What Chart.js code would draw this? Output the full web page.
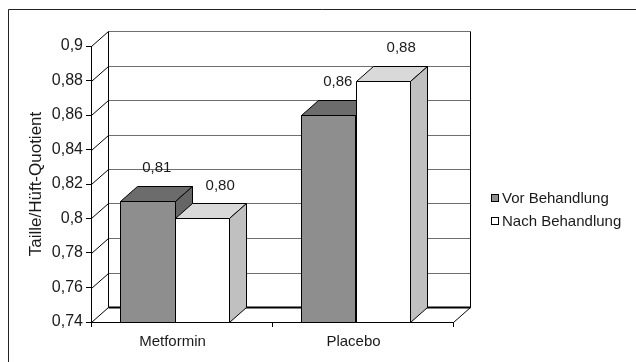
<!DOCTYPE html>
<html>
<head>
<meta charset="utf-8">
<script src="https://cdn.jsdelivr.net/npm/chart.js@4.4.1/dist/chart.umd.min.js"></script>
<style>
  html, body { margin: 0; padding: 0; background: #fff; }
  #wrap { width: 636px; height: 362px; }
</style>
</head>
<body>
<div id="wrap"><canvas id="c" width="636" height="362"></canvas></div>
<script>
// Waist/hip ratio before and after treatment
const categories = ['Metformin', 'Placebo'];
const seriesNames = ['Vor Behandlung', 'Nach Behandlung'];
const vorValues = [0.81, 0.86];
const nachValues = [0.80, 0.88];
const axisMin = 0.74;
const axisMax = 0.9;
const axisStep = 0.02;
const axisTitle = 'Taille/Hüft-Quotient';

// Styling
const FONT = '"Liberation Sans", Arial, Helvetica, sans-serif';
const TEXT = '#1a1a1a';
const frontColors = ['#8e8e8e', '#ffffff'];
const topColors = ['#6c6c6c', '#d9d9d9'];
const sideColors = ['#666666', '#c0c0c0'];
const labelShift = [1, 10];     // extra horizontal nudge of the value labels
const DEPTH_X = 17;             // oblique depth of the 3D box
const DEPTH_Y = -15;
const BAR_SHIFT = -7;           // perspective drift of the bar groups
const LABEL_RISE = 33;

const crisp = v => Math.round(v) + 0.5;
const fmtTick = v => String(Math.round(v * 100) / 100).replace('.', ',');
const fmtValue = v => v.toFixed(2).replace('.', ',');

function line(ctx, x1, y1, x2, y2) {
  ctx.beginPath();
  ctx.moveTo(x1, y1);
  ctx.lineTo(x2, y2);
  ctx.stroke();
}

function poly(ctx, pts, fill) {
  ctx.beginPath();
  ctx.moveTo(pts[0][0], pts[0][1]);
  for (let k = 1; k < pts.length; k++) ctx.lineTo(pts[k][0], pts[k][1]);
  ctx.closePath();
  ctx.fillStyle = fill;
  ctx.fill();
  ctx.stroke();
}

const box3d = {
  id: 'box3d',
  beforeDraw(chart) {
    const { ctx, width, height } = chart;
    ctx.save();
    ctx.fillStyle = '#fff';
    ctx.fillRect(0, 0, width, height);
    // outer frame (only its top and left edges fall inside the canvas)
    ctx.strokeStyle = '#222';
    ctx.lineWidth = 1;
    line(ctx, 8.5, 9.5, width, 9.5);
    line(ctx, 8.5, 9.5, 8.5, height);
    ctx.restore();
  },
  beforeDatasetsDraw(chart) {
    const { ctx, chartArea: a, scales: { y } } = chart;
    const dx = DEPTH_X, dy = DEPTH_Y;
    const L = crisp(a.left), R = crisp(a.right), B = crisp(a.bottom), T = crisp(a.top);
    ctx.save();
    ctx.lineWidth = 1;

    // back wall grid lines and side wall diagonals
    y.ticks.forEach(t => {
      const py = crisp(y.getPixelForValue(t.value));
      if (t.value > axisMin) {
        ctx.strokeStyle = '#6e6e6e';
        line(ctx, L + dx, py + dy, R + dx, py + dy);
      }
      ctx.strokeStyle = '#000';
      line(ctx, L, py, L + dx, py + dy);
    });
    ctx.strokeStyle = '#000';
    // back wall verticals
    line(ctx, L + dx, T + dy, L + dx, B + dy);
    line(ctx, R + dx, T + dy, R + dx, B + dy);
    // floor
    ctx.lineWidth = 2;
    line(ctx, L + dx, B + dy, R + dx, B + dy);
    ctx.lineWidth = 1;
    line(ctx, R, B, R + dx, B + dy);

    // 3D bars standing on the floor: category by category, series left to right
    const floorY = y.getPixelForValue(axisMin);
    const n = chart.data.labels.length;
    for (let i = 0; i < n; i++) {
      chart.data.datasets.forEach((ds, di) => {
        const bar = chart.getDatasetMeta(di).data[i];
        const p = bar.getProps(['x', 'y', 'width'], true);
        const l = crisp(p.x - p.width / 2 + BAR_SHIFT);
        const r = crisp(p.x + p.width / 2 + BAR_SHIFT);
        const top = crisp(p.y);
        const base = crisp(floorY);
        ctx.strokeStyle = '#000';
        ctx.lineWidth = 1;
        poly(ctx, [[l, top], [r, top], [r, base], [l, base]], frontColors[di]);
        poly(ctx, [[l, top], [l + dx, top + dy], [r + dx, top + dy], [r, top]], topColors[di]);
        poly(ctx, [[r, top], [r + dx, top + dy], [r + dx, base + dy], [r, base]], sideColors[di]);
      });
    }

    // value labels
    ctx.fillStyle = TEXT;
    ctx.font = '15px ' + FONT;
    ctx.textAlign = 'center';
    ctx.textBaseline = 'middle';
    chart.data.datasets.forEach((ds, di) => {
      chart.getDatasetMeta(di).data.forEach((bar, i) => {
        const p = bar.getProps(['x', 'y'], true);
        ctx.fillText(fmtValue(ds.data[i]), p.x + BAR_SHIFT + dx / 2 + labelShift[di], p.y - LABEL_RISE);
      });
    });
    ctx.restore();
    return false;
  },
  afterDraw(chart) {
    // legend
    const { ctx, chartArea: a } = chart;
    ctx.save();
    ctx.font = '15px ' + FONT;
    ctx.textAlign = 'left';
    ctx.textBaseline = 'middle';
    chart.data.datasets.forEach((ds, di) => {
      const cy = Math.round(a.top + 152 + di * 22.5);
      const bx = Math.round(a.right + 38);
      ctx.fillStyle = ds.backgroundColor;
      ctx.fillRect(bx, cy - 4, 8, 8);
      ctx.strokeStyle = '#000';
      ctx.lineWidth = 1;
      ctx.strokeRect(bx + 0.5, cy - 3.5, 7, 7);
      ctx.fillStyle = TEXT;
      ctx.fillText(ds.label, bx + 11, cy + 1);
    });
    ctx.restore();
  }
};

new Chart(document.getElementById('c'), {
  type: 'bar',
  data: {
    labels: categories,
    datasets: [
      { label: seriesNames[0], data: vorValues, backgroundColor: frontColors[0] },
      { label: seriesNames[1], data: nachValues, backgroundColor: frontColors[1] }
    ]
  },
  options: {
    responsive: false,
    animation: false,
    layout: { padding: { left: 8, right: 183, top: 46, bottom: 10 } },
    datasets: { bar: { categoryPercentage: 0.6, barPercentage: 1 } },
    plugins: { legend: { display: false }, tooltip: { enabled: false } },
    scales: {
      x: {
        offset: true,
        grid: { offset: true, drawOnChartArea: false, color: '#000', tickColor: '#000', tickLength: 5 },
        border: { color: '#000' },
        ticks: { font: { family: FONT, size: 15 }, color: TEXT, padding: 6, labelOffset: -9, maxRotation: 0 },
        afterFit(s) { s.height = 30; }
      },
      y: {
        min: axisMin,
        max: axisMax,
        grid: { drawOnChartArea: false, color: '#000', tickColor: '#000', tickLength: 5 },
        border: { color: '#000' },
        ticks: { stepSize: axisStep, font: { family: FONT, size: 16 }, color: TEXT, padding: 3, callback: v => fmtTick(v) },
        title: { display: true, text: axisTitle, font: { family: FONT, size: 17 }, color: TEXT, padding: { top: 18, bottom: 0 } },
        afterFit(s) { s.width = 83; }
      }
    }
  },
  plugins: [box3d]
});
</script>
</body>
</html>
